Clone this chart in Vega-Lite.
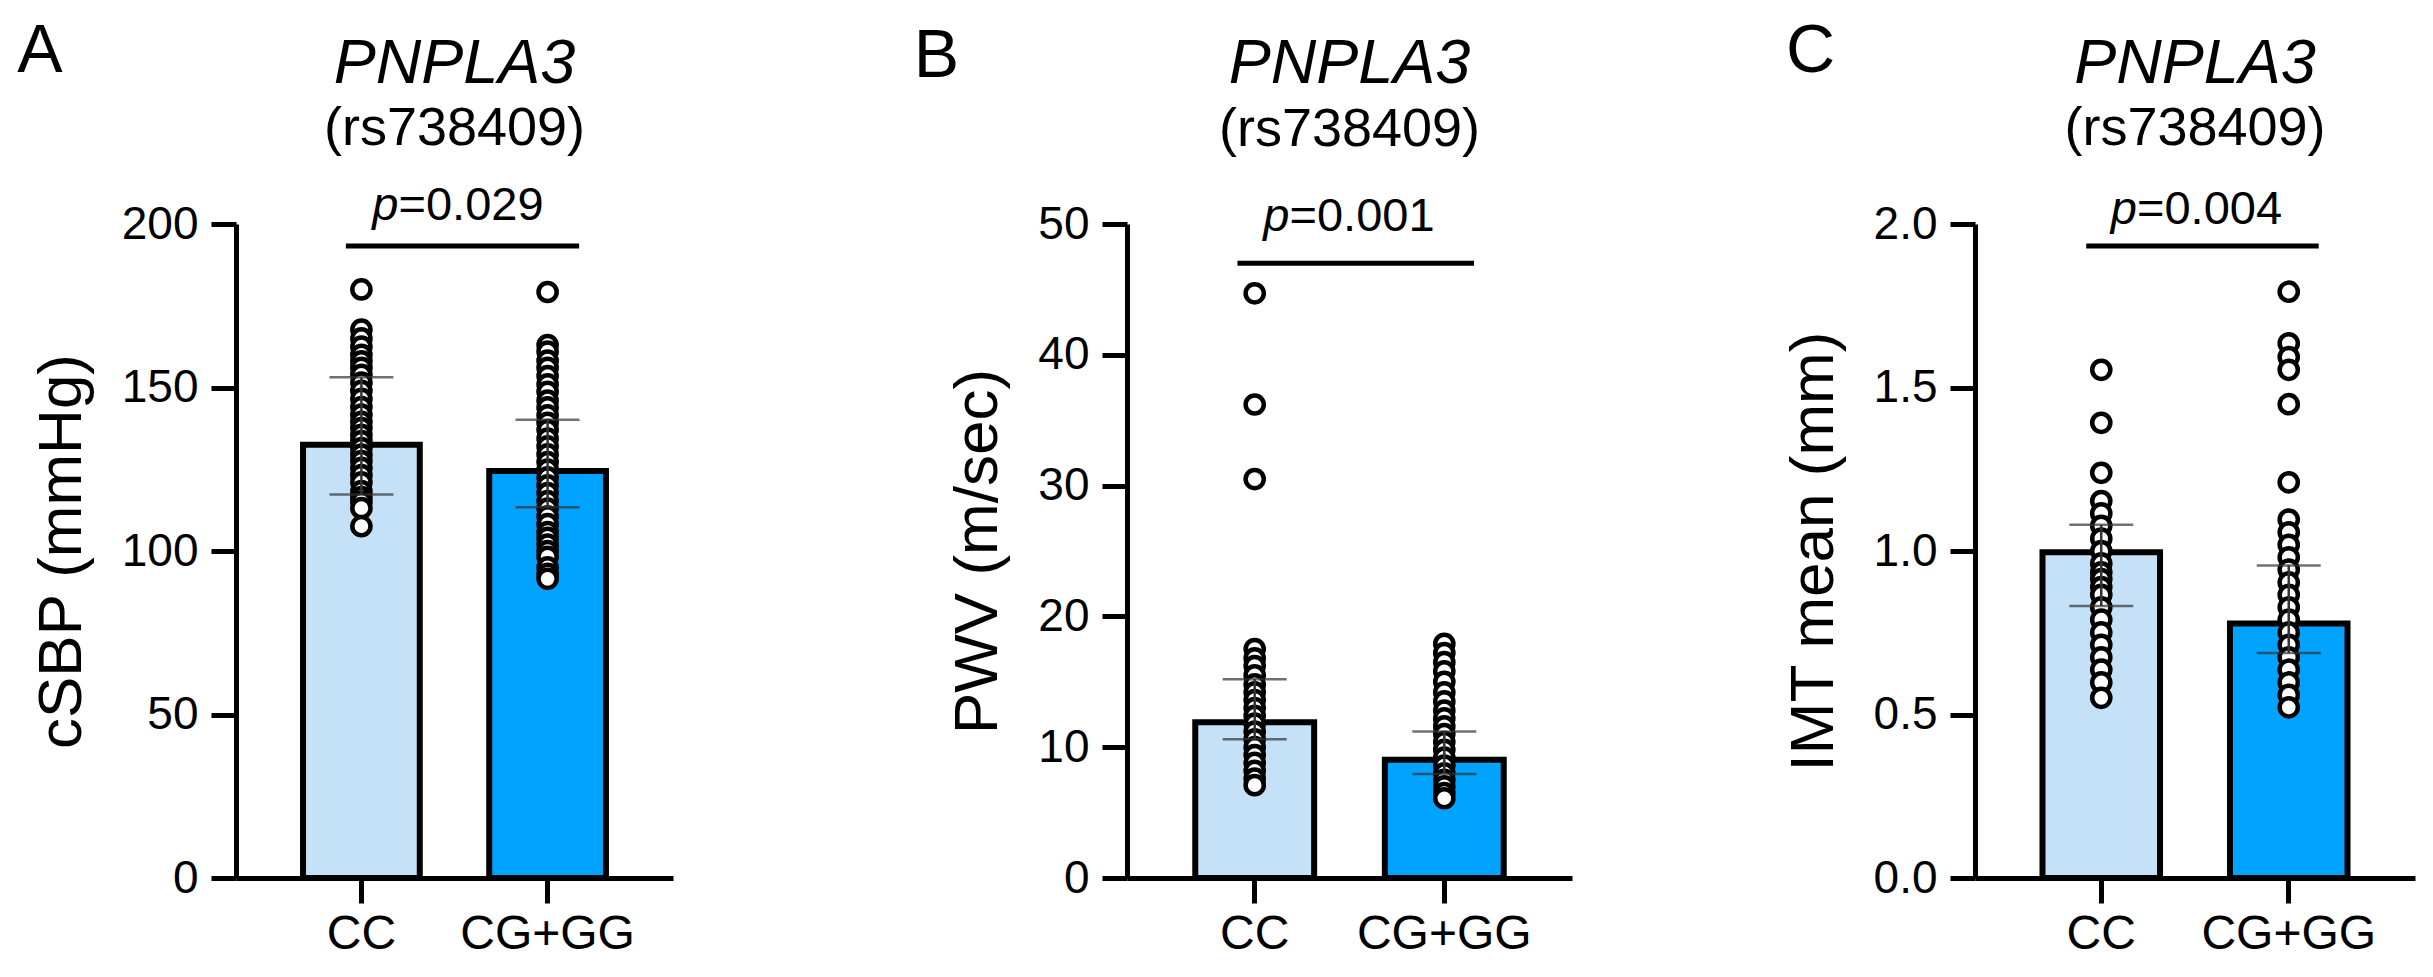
{
  "$schema": "https://vega.github.io/schema/vega-lite/v6.json",
  "background": "white",
  "padding": {"left": 17, "top": 18, "right": 10, "bottom": 10},
  "datasets": {
    "a_pts": [
      {"genotype": "CC", "value": 180}, {"genotype": "CC", "value": 167.7}, {"genotype": "CC", "value": 165}, {"genotype": "CC", "value": 162.5},
      {"genotype": "CC", "value": 160}, {"genotype": "CC", "value": 158}, {"genotype": "CC", "value": 156}, {"genotype": "CC", "value": 153.9},
      {"genotype": "CC", "value": 151.5}, {"genotype": "CC", "value": 149}, {"genotype": "CC", "value": 146.5}, {"genotype": "CC", "value": 144},
      {"genotype": "CC", "value": 141.7}, {"genotype": "CC", "value": 139.5}, {"genotype": "CC", "value": 137.6}, {"genotype": "CC", "value": 135.5},
      {"genotype": "CC", "value": 133.6}, {"genotype": "CC", "value": 131.5}, {"genotype": "CC", "value": 129.5}, {"genotype": "CC", "value": 127.5},
      {"genotype": "CC", "value": 125.4}, {"genotype": "CC", "value": 123.2}, {"genotype": "CC", "value": 121}, {"genotype": "CC", "value": 118.3},
      {"genotype": "CC", "value": 116.5}, {"genotype": "CC", "value": 115}, {"genotype": "CC", "value": 113.1}, {"genotype": "CC", "value": 107.6},
      {"genotype": "CG+GG", "value": 179.2}, {"genotype": "CG+GG", "value": 163}, {"genotype": "CG+GG", "value": 161}, {"genotype": "CG+GG", "value": 158.2},
      {"genotype": "CG+GG", "value": 156}, {"genotype": "CG+GG", "value": 153.5}, {"genotype": "CG+GG", "value": 151}, {"genotype": "CG+GG", "value": 148.7},
      {"genotype": "CG+GG", "value": 146}, {"genotype": "CG+GG", "value": 143.9}, {"genotype": "CG+GG", "value": 141.5}, {"genotype": "CG+GG", "value": 139.2},
      {"genotype": "CG+GG", "value": 137}, {"genotype": "CG+GG", "value": 134.4}, {"genotype": "CG+GG", "value": 132}, {"genotype": "CG+GG", "value": 129.6},
      {"genotype": "CG+GG", "value": 127.2}, {"genotype": "CG+GG", "value": 124.9}, {"genotype": "CG+GG", "value": 122.5}, {"genotype": "CG+GG", "value": 120.1},
      {"genotype": "CG+GG", "value": 117.7}, {"genotype": "CG+GG", "value": 115.3}, {"genotype": "CG+GG", "value": 113}, {"genotype": "CG+GG", "value": 110.6},
      {"genotype": "CG+GG", "value": 108.2}, {"genotype": "CG+GG", "value": 105.8}, {"genotype": "CG+GG", "value": 104}, {"genotype": "CG+GG", "value": 102},
      {"genotype": "CG+GG", "value": 100}, {"genotype": "CG+GG", "value": 98.2}, {"genotype": "CG+GG", "value": 95}, {"genotype": "CG+GG", "value": 93},
      {"genotype": "CG+GG", "value": 91.5}
    ],
    "a_stats": [
      {"genotype": "CC", "mean": 132.5, "lo": 117.3, "hi": 153.1},
      {"genotype": "CG+GG", "mean": 124.5, "lo": 113.4, "hi": 140.1}
    ],
    "b_pts": [
      {"genotype": "CC", "value": 44.7}, {"genotype": "CC", "value": 36.2}, {"genotype": "CC", "value": 30.5}, {"genotype": "CC", "value": 17.5},
      {"genotype": "CC", "value": 16.8}, {"genotype": "CC", "value": 16.2}, {"genotype": "CC", "value": 15.5}, {"genotype": "CC", "value": 14.8},
      {"genotype": "CC", "value": 14.2}, {"genotype": "CC", "value": 13.6}, {"genotype": "CC", "value": 13.0}, {"genotype": "CC", "value": 12.4},
      {"genotype": "CC", "value": 11.8}, {"genotype": "CC", "value": 11.2}, {"genotype": "CC", "value": 10.6}, {"genotype": "CC", "value": 10.0},
      {"genotype": "CC", "value": 9.4}, {"genotype": "CC", "value": 8.8}, {"genotype": "CC", "value": 8.2}, {"genotype": "CC", "value": 7.6},
      {"genotype": "CC", "value": 7.1},
      {"genotype": "CG+GG", "value": 17.9}, {"genotype": "CG+GG", "value": 17.2}, {"genotype": "CG+GG", "value": 16.5}, {"genotype": "CG+GG", "value": 15.8},
      {"genotype": "CG+GG", "value": 15.0}, {"genotype": "CG+GG", "value": 14.2}, {"genotype": "CG+GG", "value": 13.5}, {"genotype": "CG+GG", "value": 12.8},
      {"genotype": "CG+GG", "value": 12.2}, {"genotype": "CG+GG", "value": 11.6}, {"genotype": "CG+GG", "value": 11.0}, {"genotype": "CG+GG", "value": 10.4},
      {"genotype": "CG+GG", "value": 9.8}, {"genotype": "CG+GG", "value": 9.2}, {"genotype": "CG+GG", "value": 8.6}, {"genotype": "CG+GG", "value": 8.0},
      {"genotype": "CG+GG", "value": 7.5}, {"genotype": "CG+GG", "value": 7.0}, {"genotype": "CG+GG", "value": 6.5}, {"genotype": "CG+GG", "value": 6.1}
    ],
    "b_stats": [
      {"genotype": "CC", "mean": 11.9, "lo": 10.6, "hi": 15.2},
      {"genotype": "CG+GG", "mean": 9.05, "lo": 7.95, "hi": 11.2}
    ],
    "c_pts": [
      {"genotype": "CC", "value": 1.554}, {"genotype": "CC", "value": 1.392}, {"genotype": "CC", "value": 1.239}, {"genotype": "CC", "value": 1.153},
      {"genotype": "CC", "value": 1.115}, {"genotype": "CC", "value": 1.077}, {"genotype": "CC", "value": 1.038}, {"genotype": "CC", "value": 1.0},
      {"genotype": "CC", "value": 0.962}, {"genotype": "CC", "value": 0.935}, {"genotype": "CC", "value": 0.914}, {"genotype": "CC", "value": 0.89},
      {"genotype": "CC", "value": 0.866}, {"genotype": "CC", "value": 0.828}, {"genotype": "CC", "value": 0.79}, {"genotype": "CC", "value": 0.751},
      {"genotype": "CC", "value": 0.713}, {"genotype": "CC", "value": 0.675}, {"genotype": "CC", "value": 0.637}, {"genotype": "CC", "value": 0.598},
      {"genotype": "CC", "value": 0.551},
      {"genotype": "CG+GG", "value": 1.793}, {"genotype": "CG+GG", "value": 1.635}, {"genotype": "CG+GG", "value": 1.593}, {"genotype": "CG+GG", "value": 1.554},
      {"genotype": "CG+GG", "value": 1.449}, {"genotype": "CG+GG", "value": 1.21}, {"genotype": "CG+GG", "value": 1.096}, {"genotype": "CG+GG", "value": 1.057},
      {"genotype": "CG+GG", "value": 1.019}, {"genotype": "CG+GG", "value": 0.981}, {"genotype": "CG+GG", "value": 0.943}, {"genotype": "CG+GG", "value": 0.904},
      {"genotype": "CG+GG", "value": 0.866}, {"genotype": "CG+GG", "value": 0.828}, {"genotype": "CG+GG", "value": 0.79}, {"genotype": "CG+GG", "value": 0.751},
      {"genotype": "CG+GG", "value": 0.713}, {"genotype": "CG+GG", "value": 0.675}, {"genotype": "CG+GG", "value": 0.637}, {"genotype": "CG+GG", "value": 0.598},
      {"genotype": "CG+GG", "value": 0.56}, {"genotype": "CG+GG", "value": 0.522}
    ],
    "c_stats": [
      {"genotype": "CC", "mean": 0.996, "lo": 0.832, "hi": 1.08},
      {"genotype": "CG+GG", "mean": 0.778, "lo": 0.688, "hi": 0.956}
    ],
    "notes": [
      {"panel": "A", "gene": "PNPLA3", "snp": "(rs738409)", "p": "=0.029"},
      {"panel": "B", "gene": "PNPLA3", "snp": "(rs738409)", "p": "=0.001"},
      {"panel": "C", "gene": "PNPLA3", "snp": "(rs738409)", "p": "=0.004"}
    ]
  },
  "hconcat": [
    {
      "spacing": 240,
      "hconcat": [
        {
          "width": 437, "height": 654,
          "title": {"text": "A", "anchor": "start", "frame": "bounds", "dx": -13, "offset": -53, "fontSize": 68, "fontWeight": "normal"},
          "layer": [
            {
              "data": {"name": "a_stats"},
              "mark": {"type": "bar", "stroke": "black", "strokeWidth": 6},
              "encoding": {
                "x": {"field": "genotype", "type": "nominal", "scale": {"domain": ["CC", "CG+GG"], "paddingInner": 0.373, "paddingOuter": 0.36}, "axis": {"title": null}},
                "y": {"field": "mean", "type": "quantitative", "scale": {"domain": [0, 200], "nice": false}, "axis": {"title": "cSBP (mmHg)", "values": [0, 50, 100, 150, 200]}},
                "fill": {"field": "genotype", "type": "nominal", "scale": {"domain": ["CC", "CG+GG"], "range": ["#c5e1f8", "#00a3ff"]}, "legend": null}
              }
            },
            {
              "data": {"name": "a_pts"},
              "mark": {"type": "point", "shape": "circle", "filled": true, "fill": "white", "stroke": "black", "strokeWidth": 4.5, "size": 330, "opacity": 1},
              "encoding": {"x": {"field": "genotype", "type": "nominal"}, "y": {"field": "value", "type": "quantitative"}}
            },
            {
              "data": {"name": "a_stats"},
              "mark": {"type": "rule", "color": "#333333", "strokeWidth": 2.5},
              "encoding": {"x": {"field": "genotype", "type": "nominal"}, "y": {"field": "lo", "type": "quantitative"}, "y2": {"field": "hi"}}
            },
            {
              "data": {"name": "a_stats"},
              "mark": {"type": "tick", "color": "#333333", "thickness": 2.5, "size": 64},
              "encoding": {"x": {"field": "genotype", "type": "nominal"}, "y": {"field": "lo", "type": "quantitative"}}
            },
            {
              "data": {"name": "a_stats"},
              "mark": {"type": "tick", "color": "#333333", "thickness": 2.5, "size": 64},
              "encoding": {"x": {"field": "genotype", "type": "nominal"}, "y": {"field": "hi", "type": "quantitative"}}
            },
            {
              "data": {"name": "notes"},
              "transform": [{"filter": "datum.panel === 'A'"}],
              "mark": {"type": "rule", "color": "black", "strokeWidth": 5},
              "encoding": {
                "x": {"datum": "CC", "bandPosition": 0.367},
                "x2": {"datum": "CG+GG", "bandPosition": 0.77},
                "y": {"datum": 193.3, "type": "quantitative"}
              }
            },
            {
              "data": {"name": "notes"},
              "transform": [{"filter": "datum.panel === 'A'"}],
              "mark": {"type": "text", "fontSize": 63, "fontStyle": "italic", "baseline": "alphabetic", "align": "center"},
              "encoding": {"y": {"datum": 243.1, "type": "quantitative"}, "text": {"field": "gene"}}
            },
            {
              "data": {"name": "notes"},
              "transform": [{"filter": "datum.panel === 'A'"}],
              "mark": {"type": "text", "fontSize": 54, "baseline": "alphabetic", "align": "center"},
              "encoding": {"y": {"datum": 224.2, "type": "quantitative"}, "text": {"field": "snp"}}
            },
            {
              "data": {"name": "notes"},
              "transform": [{"filter": "datum.panel === 'A'"}],
              "mark": {"type": "text", "fontSize": 47, "fontStyle": "italic", "baseline": "alphabetic", "align": "right", "dx": -56},
              "encoding": {"y": {"datum": 201.2, "type": "quantitative"}, "text": {"value": "p"}}
            },
            {
              "data": {"name": "notes"},
              "transform": [{"filter": "datum.panel === 'A'"}],
              "mark": {"type": "text", "fontSize": 47, "baseline": "alphabetic", "align": "left", "dx": -56},
              "encoding": {"y": {"datum": 201.2, "type": "quantitative"}, "text": {"field": "p"}}
            }
          ]
        },
        {
          "width": 445, "height": 654,
          "title": {"text": "B", "anchor": "start", "frame": "bounds", "dx": -33, "offset": -58, "fontSize": 68, "fontWeight": "normal"},
          "layer": [
            {
              "data": {"name": "b_stats"},
              "mark": {"type": "bar", "stroke": "black", "strokeWidth": 6},
              "encoding": {
                "x": {"field": "genotype", "type": "nominal", "scale": {"domain": ["CC", "CG+GG"], "paddingInner": 0.373, "paddingOuter": 0.36}, "axis": {"title": null}},
                "y": {"field": "mean", "type": "quantitative", "scale": {"domain": [0, 50], "nice": false}, "axis": {"title": "PWV (m/sec)", "values": [0, 10, 20, 30, 40, 50]}},
                "fill": {"field": "genotype", "type": "nominal", "scale": {"domain": ["CC", "CG+GG"], "range": ["#c5e1f8", "#00a3ff"]}, "legend": null}
              }
            },
            {
              "data": {"name": "b_pts"},
              "mark": {"type": "point", "shape": "circle", "filled": true, "fill": "white", "stroke": "black", "strokeWidth": 4.5, "size": 330, "opacity": 1},
              "encoding": {"x": {"field": "genotype", "type": "nominal"}, "y": {"field": "value", "type": "quantitative"}}
            },
            {
              "data": {"name": "b_stats"},
              "mark": {"type": "rule", "color": "#333333", "strokeWidth": 2.5},
              "encoding": {"x": {"field": "genotype", "type": "nominal"}, "y": {"field": "lo", "type": "quantitative"}, "y2": {"field": "hi"}}
            },
            {
              "data": {"name": "b_stats"},
              "mark": {"type": "tick", "color": "#333333", "thickness": 2.5, "size": 64},
              "encoding": {"x": {"field": "genotype", "type": "nominal"}, "y": {"field": "lo", "type": "quantitative"}}
            },
            {
              "data": {"name": "b_stats"},
              "mark": {"type": "tick", "color": "#333333", "thickness": 2.5, "size": 64},
              "encoding": {"x": {"field": "genotype", "type": "nominal"}, "y": {"field": "hi", "type": "quantitative"}}
            },
            {
              "data": {"name": "notes"},
              "transform": [{"filter": "datum.panel === 'B'"}],
              "mark": {"type": "rule", "color": "black", "strokeWidth": 5},
              "encoding": {
                "x": {"datum": "CC", "bandPosition": 0.355},
                "x2": {"datum": "CG+GG", "bandPosition": 0.75},
                "y": {"datum": 47.0, "type": "quantitative"}
              }
            },
            {
              "data": {"name": "notes"},
              "transform": [{"filter": "datum.panel === 'B'"}],
              "mark": {"type": "text", "fontSize": 63, "fontStyle": "italic", "baseline": "alphabetic", "align": "center"},
              "encoding": {"y": {"datum": 60.8, "type": "quantitative"}, "text": {"field": "gene"}}
            },
            {
              "data": {"name": "notes"},
              "transform": [{"filter": "datum.panel === 'B'"}],
              "mark": {"type": "text", "fontSize": 54, "baseline": "alphabetic", "align": "center"},
              "encoding": {"y": {"datum": 56.0, "type": "quantitative"}, "text": {"field": "snp"}}
            },
            {
              "data": {"name": "notes"},
              "transform": [{"filter": "datum.panel === 'B'"}],
              "mark": {"type": "text", "fontSize": 47, "fontStyle": "italic", "baseline": "alphabetic", "align": "right", "dx": -60},
              "encoding": {"y": {"datum": 49.5, "type": "quantitative"}, "text": {"value": "p"}}
            },
            {
              "data": {"name": "notes"},
              "transform": [{"filter": "datum.panel === 'B'"}],
              "mark": {"type": "text", "fontSize": 47, "baseline": "alphabetic", "align": "left", "dx": -60},
              "encoding": {"y": {"datum": 49.5, "type": "quantitative"}, "text": {"field": "p"}}
            }
          ]
        }
      ]
    },
    {
      "width": 440, "height": 654,
      "title": {"text": "C", "anchor": "start", "frame": "bounds", "dx": 4, "offset": -53, "fontSize": 68, "fontWeight": "normal"},
      "layer": [
        {
          "data": {"name": "c_stats"},
          "mark": {"type": "bar", "stroke": "black", "strokeWidth": 6},
          "encoding": {
            "x": {"field": "genotype", "type": "nominal", "scale": {"domain": ["CC", "CG+GG"], "paddingInner": 0.373, "paddingOuter": 0.36}, "axis": {"title": null}},
            "y": {"field": "mean", "type": "quantitative", "scale": {"domain": [0, 2], "nice": false}, "axis": {"title": "IMT mean (mm)", "values": [0, 0.5, 1, 1.5, 2], "format": ".1f"}},
            "fill": {"field": "genotype", "type": "nominal", "scale": {"domain": ["CC", "CG+GG"], "range": ["#c5e1f8", "#00a3ff"]}, "legend": null}
          }
        },
        {
          "data": {"name": "c_pts"},
          "mark": {"type": "point", "shape": "circle", "filled": true, "fill": "white", "stroke": "black", "strokeWidth": 4.5, "size": 330, "opacity": 1},
          "encoding": {"x": {"field": "genotype", "type": "nominal"}, "y": {"field": "value", "type": "quantitative"}}
        },
        {
          "data": {"name": "c_stats"},
          "mark": {"type": "rule", "color": "#333333", "strokeWidth": 2.5},
          "encoding": {"x": {"field": "genotype", "type": "nominal"}, "y": {"field": "lo", "type": "quantitative"}, "y2": {"field": "hi"}}
        },
        {
          "data": {"name": "c_stats"},
          "mark": {"type": "tick", "color": "#333333", "thickness": 2.5, "size": 64},
          "encoding": {"x": {"field": "genotype", "type": "nominal"}, "y": {"field": "lo", "type": "quantitative"}}
        },
        {
          "data": {"name": "c_stats"},
          "mark": {"type": "tick", "color": "#333333", "thickness": 2.5, "size": 64},
          "encoding": {"x": {"field": "genotype", "type": "nominal"}, "y": {"field": "hi", "type": "quantitative"}}
        },
        {
          "data": {"name": "notes"},
          "transform": [{"filter": "datum.panel === 'C'"}],
          "mark": {"type": "rule", "color": "black", "strokeWidth": 5},
          "encoding": {
            "x": {"datum": "CC", "bandPosition": 0.372},
            "x2": {"datum": "CG+GG", "bandPosition": 0.755},
            "y": {"datum": 1.933, "type": "quantitative"}
          }
        },
        {
          "data": {"name": "notes"},
          "transform": [{"filter": "datum.panel === 'C'"}],
          "mark": {"type": "text", "fontSize": 63, "fontStyle": "italic", "baseline": "alphabetic", "align": "center"},
          "encoding": {"y": {"datum": 2.431, "type": "quantitative"}, "text": {"field": "gene"}}
        },
        {
          "data": {"name": "notes"},
          "transform": [{"filter": "datum.panel === 'C'"}],
          "mark": {"type": "text", "fontSize": 54, "baseline": "alphabetic", "align": "center"},
          "encoding": {"y": {"datum": 2.242, "type": "quantitative"}, "text": {"field": "snp"}}
        },
        {
          "data": {"name": "notes"},
          "transform": [{"filter": "datum.panel === 'C'"}],
          "mark": {"type": "text", "fontSize": 47, "fontStyle": "italic", "baseline": "alphabetic", "align": "right", "dx": -58},
          "encoding": {"y": {"datum": 2.0, "type": "quantitative"}, "text": {"value": "p"}}
        },
        {
          "data": {"name": "notes"},
          "transform": [{"filter": "datum.panel === 'C'"}],
          "mark": {"type": "text", "fontSize": 47, "baseline": "alphabetic", "align": "left", "dx": -58},
          "encoding": {"y": {"datum": 2.0, "type": "quantitative"}, "text": {"field": "p"}}
        }
      ]
    }
  ],
  "spacing": 210,
  "config": {
    "font": "Liberation Sans",
    "view": {"stroke": null},
    "title": {"font": "Liberation Sans", "color": "black"},
    "text": {"font": "Liberation Sans", "color": "black"},
    "axis": {
      "grid": false,
      "domainColor": "black",
      "domainWidth": 5,
      "tickColor": "black",
      "tickWidth": 5,
      "tickSize": 25,
      "labelColor": "black",
      "labelFont": "Liberation Sans",
      "titleFont": "Liberation Sans",
      "titleColor": "black",
      "titleFontWeight": "normal"
    },
    "axisX": {"labelAngle": 0, "labelFontSize": 48, "labelPadding": 7},
    "axisY": {"labelFontSize": 46, "labelPadding": 13, "titleFontSize": 62, "titlePadding": 28}
  }
}
